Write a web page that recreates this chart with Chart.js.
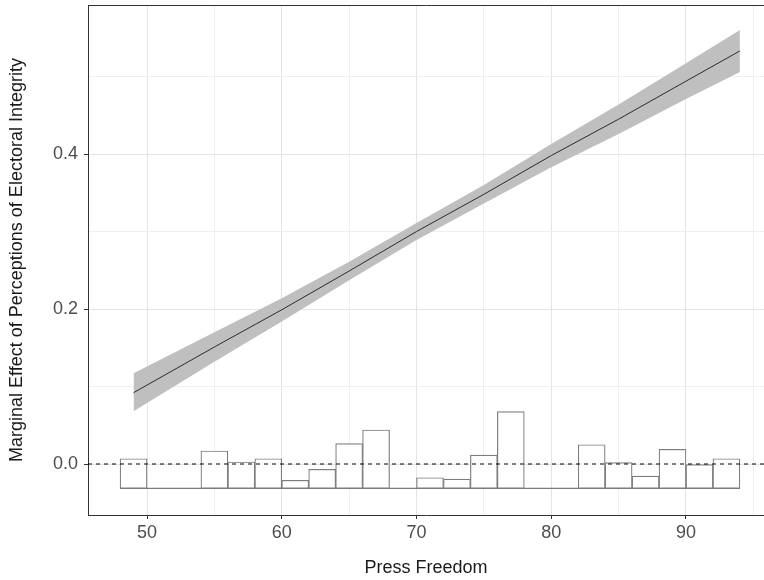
<!DOCTYPE html>
<html>
<head>
<meta charset="utf-8">
<script src="https://cdn.jsdelivr.net/npm/chart.js@4/dist/chart.umd.min.js"></script>
<style>
  html, body { margin: 0; padding: 0; background: #ffffff; }
  #wrap { width: 764px; height: 580px; }
</style>
</head>
<body>
<div id="wrap"><canvas id="c" width="764" height="580"></canvas></div>
<script>
// ---- data ----
const xMajorTicks = [50, 60, 70, 80, 90];
const xMinorTicks = [55, 65, 75, 85, 95];
const yMajorTicks = [0, 0.2, 0.4];
const yMinorTicks = [0.1, 0.3, 0.5];

// marginal effect line and 95% band
const pressFreedom = [49, 55, 60, 65, 70, 75, 80, 85, 90, 94];
const effect       = [0.092, 0.151, 0.199, 0.249, 0.300, 0.348, 0.398, 0.445, 0.494, 0.533];
const effectUpper  = [0.117, 0.170, 0.214, 0.261, 0.311, 0.360, 0.413, 0.464, 0.517, 0.560];
const effectLower  = [0.068, 0.132, 0.184, 0.237, 0.289, 0.336, 0.383, 0.426, 0.471, 0.506];

// histogram of Press Freedom (bins of width 2) drawn at the bottom
const binCenters = [49, 51, 53, 55, 57, 59, 61, 63, 65, 67, 69, 71, 73, 75, 77, 79, 81, 83, 85, 87, 89, 91, 93];
const binTops    = [0.0068, -0.0314, -0.0314, 0.0168, 0.0026, 0.0068, -0.0210, -0.0068, 0.0262, 0.0439, -0.0314,
                    -0.0177, -0.0194, 0.0116, 0.0675, -0.0314, -0.0314, 0.0249, 0.0017, -0.0155, 0.0190, 0.0000, 0.0068];
const histBase   = -0.0314;
const histRange  = [48, 94];

const refLineY = 0;
const xRange = [45.62, 95.79];
const yRange = [-0.0658, 0.5923];

// ---- build datasets ----
const zip = (xs, ys) => xs.map((x, i) => ({ x: x, y: ys[i] }));

const data = {
  datasets: [
    {
      type: 'line', label: 'zero', order: 0,
      data: [{ x: xRange[0], y: refLineY }, { x: xRange[1], y: refLineY }],
      borderColor: '#000000', borderWidth: 1, borderDash: [4, 4],
      pointRadius: 0, fill: false
    },
    {
      type: 'line', label: 'effect', order: 1,
      data: zip(pressFreedom, effect),
      borderColor: '#2b2b2b', borderWidth: 1,
      pointRadius: 0, fill: false, tension: 0
    },
    {
      type: 'bar', label: 'hist', order: 2,
      data: binCenters.map((x, i) => ({ x: x, y: [histBase, binTops[i]] })),
      backgroundColor: '#ffffff', borderColor: '#7d7d7d', borderWidth: 1.2,
      borderSkipped: false, barPercentage: 1, categoryPercentage: 1
    },
    {
      type: 'line', label: 'base', order: 2,
      data: [{ x: histRange[0], y: histBase }, { x: histRange[1], y: histBase }],
      borderColor: '#7d7d7d', borderWidth: 1.2, pointRadius: 0, fill: false
    },
    {
      type: 'line', label: 'lower', order: 4,
      data: zip(pressFreedom, effectLower),
      borderColor: 'rgba(0,0,0,0)', borderWidth: 0, pointRadius: 0, fill: false
    },
    {
      type: 'line', label: 'upper', order: 3,
      data: zip(pressFreedom, effectUpper),
      borderColor: 'rgba(0,0,0,0)', borderWidth: 0, pointRadius: 0,
      fill: '-1', backgroundColor: '#bfbfbf'
    }
  ]
};

const isIn = (arr, v) => arr.some(a => Math.abs(a - v) < 1e-9);
const tickFont = { family: "'Liberation Sans', Arial, sans-serif", size: 18 };
const titleFont = { family: "'Liberation Sans', Arial, sans-serif", size: 18 };

new Chart(document.getElementById('c'), {
  type: 'bar',
  data: data,
  options: {
    responsive: false,
    animation: false,
    layout: { padding: 0 },
    plugins: { legend: { display: false }, tooltip: { enabled: false } },
    scales: {
      x: {
        type: 'linear', position: 'bottom', min: xRange[0], max: xRange[1], offset: false,
        afterBuildTicks: s => { s.ticks = xMajorTicks.concat(xMinorTicks).sort((a, b) => a - b).map(v => ({ value: v })); },
        afterFit: s => { s.height = 65; s.paddingLeft = 0; s.paddingRight = 0; },
        ticks: {
          autoSkip: false, maxRotation: 0, padding: 3, color: '#4d4d4d', font: tickFont,
          callback: v => isIn(xMajorTicks, v) ? String(v) : ''
        },
        grid: {
          offset: false, drawTicks: true, tickLength: 4,
          color: c => isIn(xMajorTicks, c.tick.value) ? '#e4e4e4' : '#efefef',
          tickColor: c => isIn(xMajorTicks, c.tick.value) ? '#333333' : 'rgba(0,0,0,0)',
          lineWidth: 1
        },
        border: { display: true, color: '#333333', width: 1 },
        title: { display: true, text: 'Press Freedom', color: '#1a1a1a', font: titleFont, padding: { top: 0, bottom: 1 } }
      },
      x2: {
        type: 'linear', position: 'top', min: xRange[0], max: xRange[1], offset: false,
        afterFit: s => { s.height = 5; s.paddingLeft = 0; s.paddingRight = 0; },
        ticks: { display: false },
        grid: { display: false, drawOnChartArea: false, drawTicks: false },
        border: { display: true, color: '#333333', width: 1 }
      },
      y: {
        type: 'linear', position: 'left', min: yRange[0], max: yRange[1],
        afterBuildTicks: s => { s.ticks = yMajorTicks.concat(yMinorTicks).sort((a, b) => a - b).map(v => ({ value: v })); },
        afterFit: s => { s.width = 88; s.paddingTop = 0; s.paddingBottom = 0; },
        ticks: {
          autoSkip: false, padding: 6, color: '#4d4d4d', font: tickFont,
          callback: v => isIn(yMajorTicks, v) ? v.toFixed(1) : ''
        },
        grid: {
          drawTicks: true, tickLength: 4,
          color: c => isIn(yMajorTicks, c.tick.value) ? '#e4e4e4' : '#efefef',
          tickColor: c => isIn(yMajorTicks, c.tick.value) ? '#333333' : 'rgba(0,0,0,0)',
          lineWidth: 1
        },
        border: { display: true, color: '#333333', width: 1 },
        title: { display: true, text: 'Marginal Effect of Perceptions of Electoral Integrity', color: '#1a1a1a', font: titleFont, padding: { top: 6, bottom: 0 } }
      }
    }
  }
});
</script>
</body>
</html>
